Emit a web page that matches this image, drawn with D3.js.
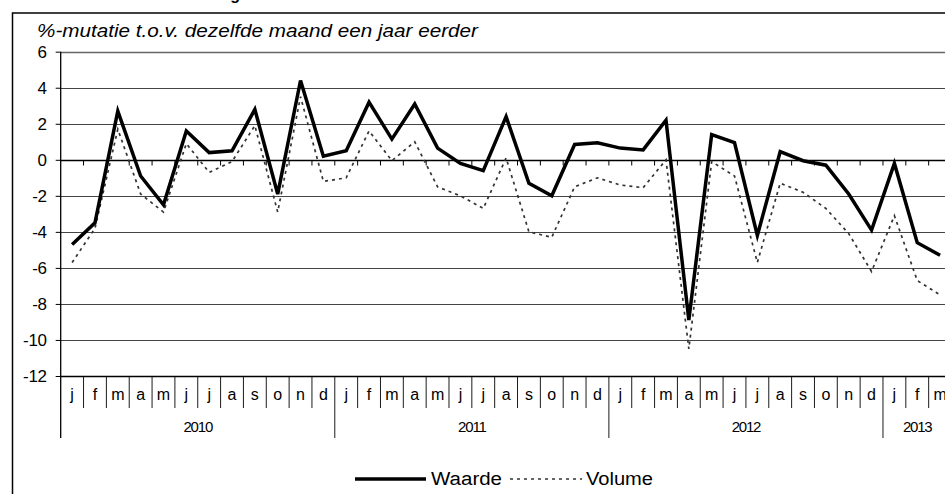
<!DOCTYPE html>
<html><head><meta charset="utf-8">
<script src="https://cdn.jsdelivr.net/npm/d3@7"></script>
<style>
body{margin:0;background:#fff;}
svg{display:block;font-family:"Liberation Sans",Arial,sans-serif;}
</style></head>
<body><svg id="c" width="945" height="494"></svg>
<script>
const months = ["j","f","m","a","m","j","j","a","s","o","n","d",
                "j","f","m","a","m","j","j","a","s","o","n","d",
                "j","f","m","a","m","j","j","a","s","o","n","d",
                "j","f","m"];
const years = ["2010","2011","2012","2013"];
const yearCounts = [12,12,12,3];
const waarde = [-4.7,-3.5,2.7,-0.9,-2.5,1.6,0.4,0.5,2.8,-1.9,4.4,0.2,
                0.5,3.2,1.15,3.1,0.65,-0.2,-0.6,2.4,-1.3,-2.0,0.85,0.95,
                0.65,0.55,2.2,-8.9,1.4,0.95,-4.2,0.45,-0.05,-0.3,-1.9,-3.9,
                -0.2,-4.6,-5.3];
const volume = [-5.7,-3.8,1.7,-1.9,-2.9,0.9,-0.7,-0.1,1.9,-2.9,3.5,-1.2,
                -1.0,1.6,-0.05,1.0,-1.5,-2.0,-2.7,0.1,-4.0,-4.3,-1.5,-1.0,
                -1.4,-1.55,0.0,-10.5,-0.1,-0.9,-5.7,-1.3,-1.8,-2.7,-4.1,-6.2,
                -3.1,-6.7,-7.5];
const yTicks = [6,4,2,0,-2,-4,-6,-8,-10,-12];
const subtitle = "%-mutatie  t.o.v. dezelfde maand een jaar eerder";
const seriesNames = ["Waarde","Volume"];

const svg = d3.select("#c");
const L = 60.7, R = 951.5, T = 51.7, B = 376;
const idx = d3.range(months.length);
const x = d3.scaleBand().domain(idx).range([L, R]).padding(0);
const bw = x.bandwidth();
const y = d3.scaleLinear().domain([-12, 6]).range([B, T]);

// outer frame
svg.append("rect").attr("x",12.5).attr("y",13).attr("width",1100).attr("height",1000)
  .attr("fill","none").attr("stroke","#000").attr("stroke-width",1.5);

// title, cut off at the top edge as in the reference
svg.append("text").attr("x",240).attr("y",0).attr("text-anchor","end")
  .attr("font-weight","bold").attr("font-size",16).text("Omzetontwikkeling");

// subtitle
svg.append("text").attr("x",37).attr("y",37).attr("font-style","italic")
  .attr("font-size",18).attr("textLength",441).attr("lengthAdjust","spacingAndGlyphs").text(subtitle);

// gridlines
svg.append("g").selectAll("line").data(yTicks.filter(d=>d!==0)).join("line")
  .attr("x1",L).attr("x2",R).attr("y1",d=>Math.round(y(d))+0.5).attr("y2",d=>Math.round(y(d))+0.5)
  .attr("stroke",d=>d===6?"#666":"#444").attr("stroke-width",d=>d===6?1.5:1);

// y axis
const ya = svg.append("g").attr("transform",`translate(${L},0)`)
  .call(d3.axisLeft(y).tickValues(yTicks).tickSize(5).tickPadding(9).tickFormat(d=>String(d)));
ya.select(".domain").remove();
ya.selectAll("line").attr("stroke","#000");
ya.selectAll("text").attr("font-size",17).attr("fill","#000")
  .attr("font-family","'Liberation Sans',Arial,sans-serif").attr("letter-spacing",-0.3);
// left axis line
svg.append("line").attr("x1",L).attr("x2",L).attr("y1",T).attr("y2",438)
  .attr("stroke","#000").attr("stroke-width",1.3);

// zero axis with downward ticks
const y0 = Math.round(y(0))+0.5;
svg.append("line").attr("x1",L).attr("x2",R).attr("y1",y0).attr("y2",y0)
  .attr("stroke","#000").attr("stroke-width",1.3);
svg.append("g").selectAll("line").data(idx.slice(1)).join("line")
  .attr("x1",d=>x(d)).attr("x2",d=>x(d)).attr("y1",y0).attr("y2",y0+5)
  .attr("stroke","#000");

// bottom axis line (-12)
const yb = Math.round(y(-12))+0.5;
svg.append("line").attr("x1",L).attr("x2",R).attr("y1",yb).attr("y2",yb)
  .attr("stroke","#000").attr("stroke-width",1.3);

// month separators and labels
const yearStarts = [];
let acc = 0; yearCounts.forEach(c=>{yearStarts.push(acc); acc+=c;});
svg.append("g").selectAll("line").data(idx.slice(1)).join("line")
  .attr("x1",d=>x(d)).attr("x2",d=>x(d)).attr("y1",yb)
  .attr("y2",d=>yearStarts.includes(d)?438:408)
  .attr("stroke","#000").attr("stroke-width",0.9);
svg.append("g").selectAll("text").data(idx).join("text")
  .attr("x",d=>x(d)+bw/2).attr("y",400).attr("text-anchor","middle")
  .attr("font-size",16).text(d=>months[d]);
svg.append("g").selectAll("text").data(years).join("text")
  .attr("x",(d,i)=>{const s=x(yearStarts[i]); const e=Math.min(x(yearStarts[i])+yearCounts[i]*bw, R); return (s+e)/2;})
  .attr("y",432).attr("text-anchor","middle").attr("font-size",15).attr("letter-spacing",-1.2)
  .text(d=>d);

// lines
const line = arr => d3.line().x((d,i)=>x(i)+bw/2).y(d=>y(d))(arr);
svg.append("path").attr("d",line(volume)).attr("fill","none")
  .attr("stroke","#333").attr("stroke-width",1.7).attr("stroke-dasharray","3,4");
svg.append("path").attr("d",line(waarde)).attr("fill","none")
  .attr("stroke","#000").attr("stroke-width",3.5).attr("stroke-linejoin","miter");

// legend
const lg = svg.append("g");
lg.append("line").attr("x1",355).attr("x2",426).attr("y1",479).attr("y2",479)
  .attr("stroke","#000").attr("stroke-width",3.5);
lg.append("text").attr("x",431).attr("y",485).attr("font-size",18)
  .attr("textLength",71).attr("lengthAdjust","spacingAndGlyphs").text(seriesNames[0]);
lg.append("line").attr("x1",510).attr("x2",582).attr("y1",479).attr("y2",479)
  .attr("stroke","#333").attr("stroke-width",1.7).attr("stroke-dasharray","3,4");
lg.append("text").attr("x",586).attr("y",485).attr("font-size",18)
  .attr("textLength",67).attr("lengthAdjust","spacingAndGlyphs").text(seriesNames[1]);
</script></body></html>
